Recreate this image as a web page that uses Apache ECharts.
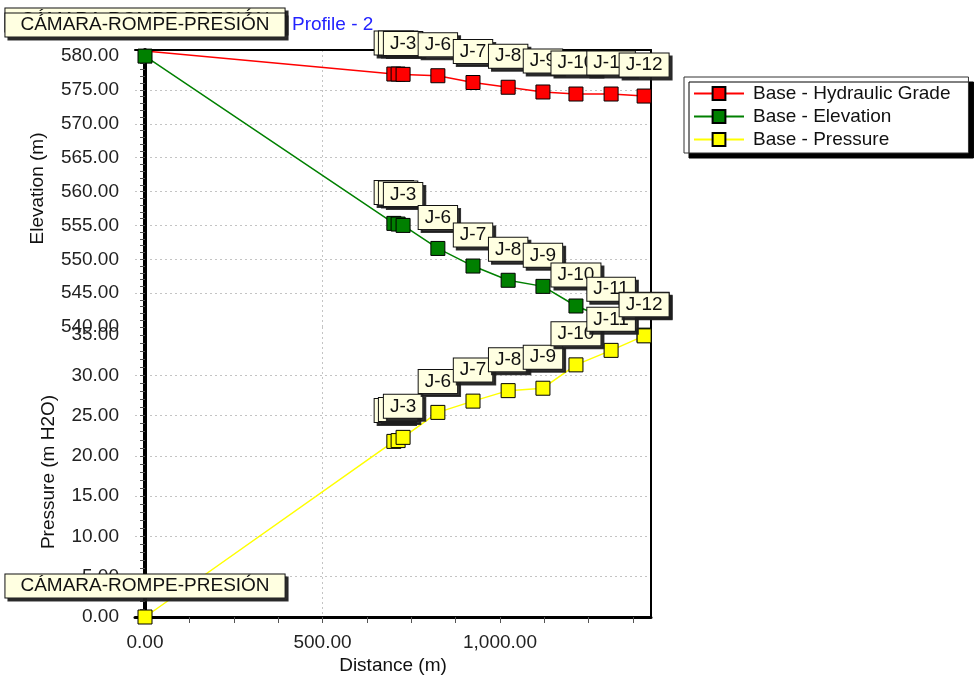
<!DOCTYPE html>
<html>
<head>
<meta charset="utf-8">
<script src="https://cdn.jsdelivr.net/npm/echarts@6/dist/echarts.min.js"></script>
<style>
  html, body { margin: 0; padding: 0; background: #ffffff; }
  #chart { width: 976px; height: 685px; }
</style>
</head>
<body>
<div id="chart"></div>
<script>
// Profile nodes, in order along the pipe
const nodeNames = ['CÁMARA-ROMPE-PRESIÓN', 'J-1', 'J-2', 'J-3', 'J-6', 'J-7', 'J-8', 'J-9', 'J-10', 'J-11', 'J-12'];
// Distance along the profile (m)
const distance = [0, 701, 713, 727, 825, 924, 1023, 1121, 1214, 1313, 1406];
// Hydraulic grade (m)
const hydraulicGrade = [580.75, 577.35, 577.35, 577.3, 577.1, 576.1, 575.4, 574.7, 574.4, 574.4, 574.1];
// Ground elevation (m)
const elevation = [580.0, 555.3, 555.2, 555.0, 551.6, 549.0, 546.9, 546.0, 543.1, 541.0, 538.8];
// Pressure (m H2O)
const pressure = [0, 21.8, 21.9, 22.3, 25.4, 26.8, 28.1, 28.4, 31.3, 33.1, 34.9];

const seriesNames = ['Base - Hydraulic Grade', 'Base - Elevation', 'Base - Pressure'];
const distanceTicks = [0, 500, 1000];
const elevationTicks = [540, 545, 550, 555, 560, 565, 570, 575, 580];
const pressureTicks = [0, 5, 10, 15, 20, 25, 30, 35];

const FONT = '"Liberation Sans", Arial, sans-serif';
const fmt = v => Number(v).toLocaleString('en-US', { minimumFractionDigits: 2, maximumFractionDigits: 2 });
const range = (a, b, step) => { const out = []; for (let v = a; v <= b + 1e-9; v += step) out.push(v); return out; };

const gridLine = { show: true, showMinLine: false, showMaxLine: false, lineStyle: { color: '#c4c4c4', type: [2, 3], width: 1 } };
const axisText = { fontFamily: FONT, fontSize: 19, color: '#111' };
const nodeLabel = {
  show: true, position: 'top', distance: 12, formatter: '{b}',
  fontFamily: FONT, fontSize: 19, lineHeight: 19, color: '#111',
  backgroundColor: '#ffffe1', borderColor: '#111', borderWidth: 1, padding: [2, 6],
  shadowColor: 'rgba(30,30,30,0.9)', shadowOffsetX: 3, shadowOffsetY: 3, shadowBlur: 0
};

function points(values, hideFirstSymbol) {
  return nodeNames.map((n, i) => {
    const item = { name: n, value: [distance[i], values[i]] };
    if (i === 0) {
      item.label = { padding: [2, 15] };
      if (hideFirstSymbol) item.itemStyle = { color: 'transparent', borderColor: 'transparent' };
    }
    return item;
  });
}

function lineSeries(name, color, xi, yi, values, hideFirst) {
  return {
    name, type: 'line', xAxisIndex: xi, yAxisIndex: yi,
    data: points(values, hideFirst),
    symbol: 'rect', symbolSize: 14, showAllSymbol: true, clip: false,
    itemStyle: { color, borderColor: '#000', borderWidth: 1 },
    lineStyle: { color, width: 1.5 },
    label: nodeLabel,
    emphasis: { disabled: true },
    animation: false
  };
}

const xMin = -28.2, xMax = 1425.4;

// frame / grid-line axis: draws only its line and dotted split lines at the given values
function frameAxis(extra, values, lineWidth) {
  return Object.assign({
    type: 'value',
    axisLine: { show: lineWidth > 0, onZero: false, lineStyle: { color: '#000', width: lineWidth || 1 } },
    axisTick: { show: false, customValues: values },
    axisLabel: { show: false },
    splitLine: gridLine
  }, extra);
}

const option = {
  animation: false,
  title: {
    text: 'Profile - 2', left: 292, top: 15, padding: 0,
    textStyle: { color: '#2323ff', fontSize: 19, fontWeight: 'normal', fontFamily: FONT }
  },
  legend: {
    orient: 'vertical', left: 684, top: 77,
    data: seriesNames,
    itemWidth: 50, itemHeight: 16, itemGap: 4,
    padding: [7, 18, 4, 9],
    backgroundColor: '#ffffff', borderColor: '#333', borderWidth: 1,
    shadowColor: '#000', shadowOffsetX: 5, shadowOffsetY: 5, shadowBlur: 0,
    textStyle: { fontFamily: FONT, fontSize: 19, lineHeight: 19, color: '#111', padding: [0, 0, 0, 4] }
  },
  grid: [
    { left: 135, top: 50, width: 516, height: 277 },
    { left: 135, top: 327, width: 516, height: 290 }
  ],
  xAxis: [
    // upper panel: top frame line + vertical grid lines
    frameAxis({ gridIndex: 0, min: xMin, max: xMax, position: 'top' }, distanceTicks, 2),
    // lower panel: distance axis with ticks and labels
    {
      gridIndex: 1, type: 'value', min: xMin, max: xMax, position: 'bottom',
      name: 'Distance (m)', nameLocation: 'middle', nameGap: 39, nameTextStyle: axisText,
      axisLine: { show: true, onZero: false, lineStyle: { color: '#000', width: 3 } },
      axisTick: { show: true, customValues: range(0, 1375, 125), length: 6, lineStyle: { color: '#555' } },
      axisLabel: Object.assign({ customValues: distanceTicks, formatter: fmt, margin: 16 }, axisText, { color: '#222' }),
      splitLine: { show: false }, z: 3
    },
    // lower panel: vertical grid lines
    frameAxis({ gridIndex: 1, min: xMin, max: xMax, position: 'top' }, distanceTicks, 0)
  ],
  yAxis: [
    {
      gridIndex: 0, type: 'value', min: 540, max: 580.9,
      name: 'Elevation (m)', nameLocation: 'middle', nameGap: 88, nameTextStyle: axisText,
      axisLine: { show: true, lineStyle: { color: '#000', width: 4 } },
      axisTick: { show: true, customValues: range(540, 580, 1), length: 5, lineStyle: { color: '#555' } },
      axisLabel: Object.assign({ customValues: elevationTicks, formatter: fmt, margin: 16 }, axisText, { color: '#222' }),
      splitLine: { show: false }
    },
    frameAxis({ gridIndex: 0, min: 540, max: 580.9, position: 'right' }, elevationTicks, 2),
    {
      gridIndex: 1, type: 'value', min: 0, max: 36,
      name: 'Pressure (m H2O)', nameLocation: 'middle', nameGap: 77, nameTextStyle: axisText,
      axisLine: { show: true, lineStyle: { color: '#000', width: 4 } },
      axisTick: { show: true, customValues: range(0, 35, 1), length: 5, lineStyle: { color: '#555' } },
      axisLabel: Object.assign({ customValues: pressureTicks, formatter: fmt, margin: 16 }, axisText, { color: '#222' }),
      splitLine: { show: false }
    },
    frameAxis({ gridIndex: 1, min: 0, max: 36, position: 'right' }, pressureTicks, 2)
  ],
  series: [
    lineSeries(seriesNames[0], '#ff0000', 0, 0, hydraulicGrade, true),
    lineSeries(seriesNames[1], '#008000', 0, 0, elevation, false),
    lineSeries(seriesNames[2], '#ffff00', 1, 2, pressure, false)
  ]
};

const chart = echarts.init(document.getElementById('chart'), null, { renderer: 'canvas' });
chart.setOption(option);
</script>
</body>
</html>
